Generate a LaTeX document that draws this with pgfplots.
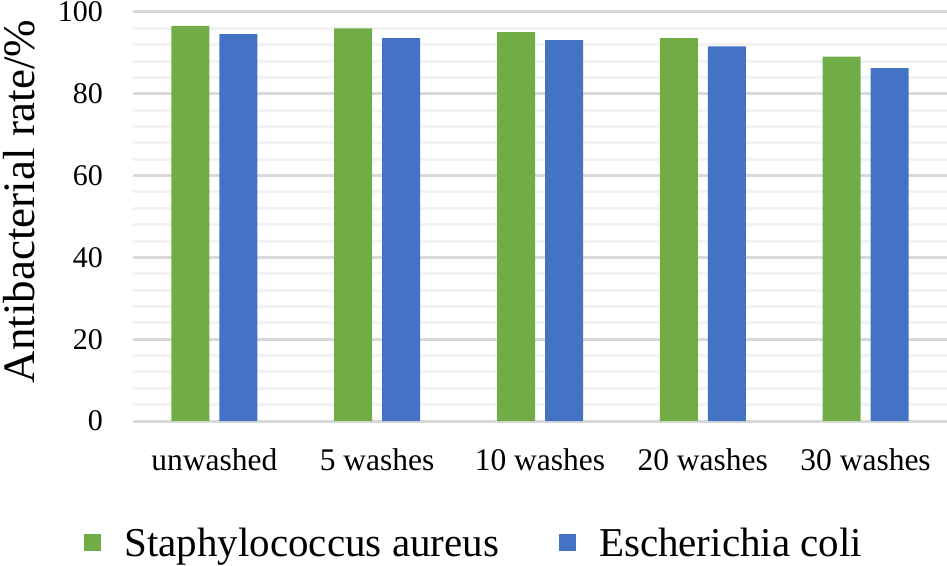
\documentclass[border=0pt]{standalone}
\usepackage{fontspec}
\setmainfont{Liberation Serif}
\usepackage{pgfplots}
\pgfplotsset{compat=1.18}
\definecolor{cgreen}{HTML}{70AD47}
\definecolor{cblue}{HTML}{4472C4}
\definecolor{gmaj}{HTML}{D9D9D9}
\definecolor{gmin}{HTML}{F2F2F2}
\begin{document}
\begin{tikzpicture}
\useasboundingbox (0,0) rectangle (947pt,565pt);
\begin{axis}[
  at={(133pt,144pt)}, anchor=south west,
  scale only axis, width=814pt, height=409pt,
  ymin=0, ymax=100, xmin=-0.5, xmax=4.5,
  enlargelimits=false,
  ybar=10pt, bar width=38pt,
  xtick={0,1,2,3,4},
  xticklabels={unwashed,5 washes,10 washes,20 washes,30 washes},
  ytick={0,20,40,60,80,100},
  minor y tick num=4,
  ymajorgrids, yminorgrids,
  major grid style={gmaj, line width=3pt},
  minor grid style={gmin, line width=3pt},
  major tick length=0pt, minor tick length=0pt,
  axis line style={draw=none},
  /pgf/number format/assume math mode=true,
  xticklabel style={font=\fontsize{31.5}{31.5}\selectfont, inner sep=0pt, yshift=-27pt},
  yticklabel style={font=\fontsize{30}{30}\selectfont, inner sep=0pt, xshift=-30pt},
  ylabel={Antibacterial rate/\%},
  ylabel style={at={(rel axis cs:-0.1400,0.537)}, anchor=center, inner sep=0pt, font=\fontsize{45}{45}\selectfont},
  legend columns=2,
  legend style={draw=none, fill=none, at={(rel axis cs:0.418,-0.298)}, anchor=center,
    font=\fontsize{41}{41}\selectfont,
    nodes={inner sep=0pt},
    /tikz/every odd column/.append style={column sep=23pt},
    /tikz/every even column/.append style={column sep=60pt}},
  legend image code/.code={\fill[#1] (0pt,-8.5pt) rectangle (17pt,8.5pt);},
]
\addplot[fill=cgreen, draw=none] coordinates {(0,96.6) (1,96.0) (2,95.1) (3,93.6) (4,89.1)};
\addplot[fill=cblue, draw=none] coordinates {(0,94.6) (1,93.6) (2,93.1) (3,91.6) (4,86.3)};
\legend{Staphylococcus aureus, Escherichia coli}
\end{axis}
\end{tikzpicture}
\end{document}
